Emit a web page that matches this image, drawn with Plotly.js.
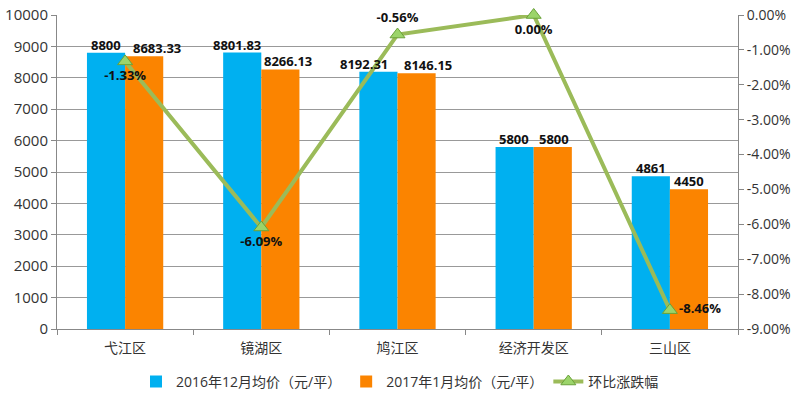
<!DOCTYPE html>
<html>
<head>
<meta charset="utf-8">
<script src="https://cdn.plot.ly/plotly-3.0.1.min.js"></script>
<style>
  html, body { margin: 0; padding: 0; background: #fff; }
  #chart { width: 800px; height: 402px; }
</style>
</head>
<body>
<div id="chart"></div>
<script>
// data
const districts = ["弋江区", "镜湖区", "鸠江区", "经济开发区", "三山区"];
const priceDec2016 = [8800, 8801.83, 8192.31, 5800, 4861];
const priceJan2017 = [8683.33, 8266.13, 8146.15, 5800, 4450];
const changeRate = [-0.0133, -0.0609, -0.0056, 0.0, -0.0846];

const seriesNames = ["2016年12月均价（元/平）", "2017年1月均价（元/平）", "环比涨跌幅"];
const rateTicks = [0, -0.01, -0.02, -0.03, -0.04, -0.05, -0.06, -0.07, -0.08, -0.09];

const FONT = "Open Sans, Noto Sans CJK SC, sans-serif";
const pct = v => (v * 100).toFixed(2) + "%";

/* =========================
   TRACES
========================= */
const traces = [
  {
    x: districts,
    y: priceDec2016,
    type: "bar",
    name: seriesNames[0],
    marker: { color: "#00b0f0" },
    hoverinfo: "none"
  },
  {
    x: districts,
    y: priceJan2017,
    type: "bar",
    name: seriesNames[1],
    marker: { color: "#fb8400" },
    hoverinfo: "none"
  },
  {
    x: districts,
    y: changeRate,
    yaxis: "y2",
    type: "scatter",
    mode: "lines+markers+text",
    name: seriesNames[2],
    line: { color: "#9bbb59", width: 4 },
    marker: { symbol: "triangle-up", size: 13, color: "#9bd46a", line: { color: "#6aa13a", width: 1 } },
    text: changeRate.map(v => "<b>" + pct(v) + "</b>"),
    textposition: ["bottom center", "bottom center", "top center", "bottom center", "middle right"],
    textfont: { family: FONT, size: 13, color: "#111" },
    cliponaxis: false,
    hoverinfo: "none"
  }
];

/* =========================
   BAR LABELS (Excel nudges them apart)
========================= */
const blueNudge = [0, -5, -15, -1, 0];
const orangeNudge = [13, 8, 11, 1, 0];
const annotations = [];
districts.forEach((d, i) => {
  annotations.push({
    x: d, y: priceDec2016[i], xref: "x", yref: "y",
    text: "<b>" + priceDec2016[i] + "</b>",
    showarrow: false, yanchor: "bottom", xshift: -19 + blueNudge[i], yshift: -3,
    font: { family: FONT, size: 13, color: "#111" }
  });
  annotations.push({
    x: d, y: priceJan2017[i], xref: "x", yref: "y",
    text: "<b>" + priceJan2017[i] + "</b>",
    showarrow: false, yanchor: "bottom", xshift: 19 + orangeNudge[i], yshift: -3,
    font: { family: FONT, size: 13, color: "#111" }
  });
});

const layout = {
  width: 800,
  height: 402,
  paper_bgcolor: "#ffffff",
  plot_bgcolor: "#ffffff",
  font: { family: FONT, size: 14, color: "#333" },
  margin: { l: 57, r: 62, t: 15, b: 73 },
  barmode: "group",
  bargap: 0.44,
  bargroupgap: 0,
  showlegend: true,
  legend: {
    orientation: "h",
    x: 0.5, xanchor: "center", xref: "container",
    y: 0.05, yanchor: "middle", yref: "container",
    font: { family: FONT, size: 14, color: "#333" },
    traceorder: "normal"
  },
  xaxis: {
    showline: true,
    linecolor: "#888",
    ticks: "outside",
    tickson: "boundaries",
    ticklen: 5,
    tickcolor: "#888",
    ticklabelstandoff: 6,
    tickfont: { size: 14, color: "#333" },
    showgrid: false,
    automargin: false
  },
  yaxis: {
    range: [0, 10000],
    dtick: 1000,
    tickformat: "d",
    showline: true,
    linecolor: "#888",
    gridcolor: "#999",
    ticks: "outside",
    ticklen: 5,
    tickcolor: "#888",
    tickfont: { size: 15, color: "#333" },
    zeroline: false,
    automargin: false
  },
  yaxis2: {
    overlaying: "y",
    side: "right",
    range: [-0.09, 0],
    tickvals: rateTicks,
    ticktext: rateTicks.map(pct),
    showline: true,
    linecolor: "#888",
    showgrid: false,
    ticks: "outside",
    ticklen: 5,
    tickcolor: "#888",
    tickfont: { size: 14, color: "#333" },
    zeroline: false,
    automargin: false
  },
  annotations: annotations
};

Plotly.newPlot("chart", traces, layout, { displayModeBar: false, staticPlot: true });
</script>
</body>
</html>
